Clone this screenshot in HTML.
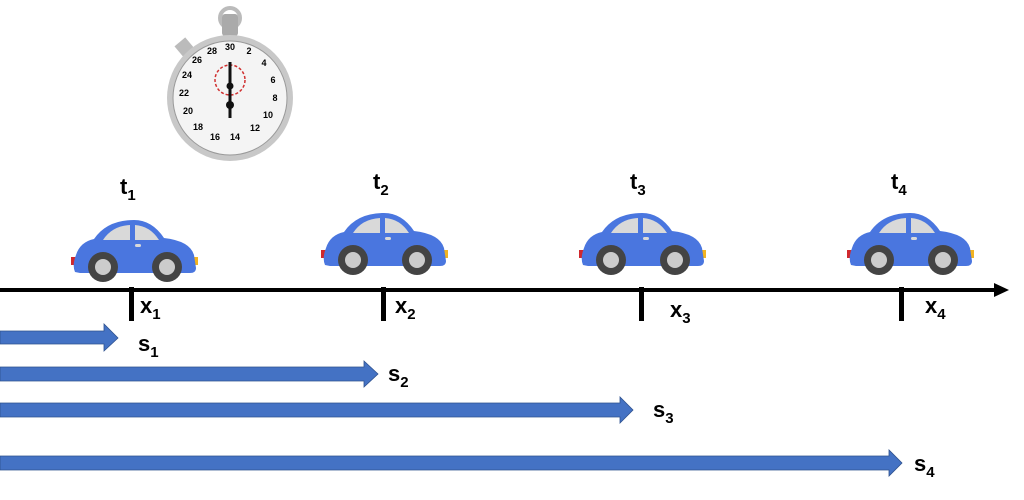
<!DOCTYPE html>
<html><head><style>
html,body{margin:0;padding:0;background:#fff;}
svg{display:block}
text{font-family:"Liberation Sans",sans-serif;font-weight:bold;fill:#000}
</style></head><body>
<svg width="1024" height="500" viewBox="0 0 1024 500">
<defs>
<g id="car">
  <rect x="-1" y="37" width="6" height="8" fill="#d0282d"/>
  <rect x="120" y="37" width="6" height="8" fill="#f2b320"/>
  <path d="M3,52 Q0,45 4,35 Q8,22 22,19 Q35,0 62,0 Q80,0 92,18 Q118,21 122,35 L124,48 Q124,53 118,53 L8,53 Z" fill="#4a76df"/>
  <path d="M31,20 Q40,6 58,5 L58,20 Z" fill="#d9d9d9"/>
  <path d="M63,5 Q78,6 87,20 L63,20 Z" fill="#d9d9d9"/>
  <rect x="63" y="24" width="6" height="3" rx="1.5" fill="#d9d9d9"/>
  <circle cx="31" cy="47" r="15" fill="#444"/><circle cx="31" cy="47" r="8" fill="#ccc"/>
  <circle cx="95" cy="47" r="15" fill="#444"/><circle cx="95" cy="47" r="8" fill="#ccc"/>
</g>
</defs>
<!-- stopwatch -->
<g>
  <circle cx="230" cy="18" r="10" fill="none" stroke="#bbb" stroke-width="4"/>
  <rect x="222" y="14" width="16" height="22" fill="#aaa" rx="3"/>
  <rect x="178" y="40" width="14" height="16" fill="#bbb" transform="rotate(-40 185 48)"/>
  <circle cx="230" cy="98" r="63" fill="#c8c8c8"/>
  <circle cx="230" cy="98" r="57" fill="#f4f4f4" stroke="#999" stroke-width="1"/>
  <circle cx="230" cy="80" r="15" fill="none" stroke="#d03030" stroke-width="1.5" stroke-dasharray="3 2"/>
  <line x1="230" y1="62" x2="230" y2="118" stroke="#111" stroke-width="3"/>
  <circle cx="230" cy="86" r="3.5" fill="#111"/><circle cx="230" cy="105" r="4" fill="#111"/>
  <g font-size="9" text-anchor="middle" style="font-weight:normal">
    <text x="230" y="50">30</text><text x="212" y="54">28</text><text x="197" y="63">26</text><text x="187" y="78">24</text><text x="184" y="96">22</text><text x="188" y="114">20</text><text x="198" y="130">18</text><text x="215" y="140">16</text><text x="235" y="140">14</text><text x="255" y="131">12</text><text x="268" y="118">10</text><text x="275" y="101">8</text><text x="273" y="83">6</text><text x="264" y="66">4</text><text x="249" y="54">2</text>
  </g>
</g>
<!-- labels t -->
<text x="120" y="194" font-size="22">t<tspan font-size="15" dy="6">1</tspan></text>
<text x="373" y="189" font-size="22">t<tspan font-size="15" dy="6">2</tspan></text>
<text x="630" y="189" font-size="22">t<tspan font-size="15" dy="6">3</tspan></text>
<text x="891" y="189" font-size="22">t<tspan font-size="15" dy="6">4</tspan></text>
<!-- cars -->
<use href="#car" x="72" y="220"/>
<use href="#car" x="322" y="213"/>
<use href="#car" x="580" y="213"/>
<use href="#car" x="848" y="213"/>
<!-- axis -->
<line x1="0" y1="290" x2="998" y2="290" stroke="#000" stroke-width="4"/>
<polygon points="994,283 1009,290 994,297" fill="#000"/>
<g fill="#000">
<rect x="129" y="287" width="5" height="34"/><rect x="381" y="287" width="5" height="34"/>
<rect x="639" y="287" width="5" height="34"/><rect x="899" y="287" width="5" height="34"/>
</g>
<text x="140" y="313" font-size="22">x<tspan font-size="15" dy="6">1</tspan></text>
<text x="395" y="313" font-size="22">x<tspan font-size="15" dy="6">2</tspan></text>
<text x="670" y="317" font-size="22">x<tspan font-size="15" dy="6">3</tspan></text>
<text x="925" y="313" font-size="22">x<tspan font-size="15" dy="6">4</tspan></text>
<!-- s arrows -->
<g fill="#4472c4" stroke="#2f528f" stroke-width="0.8">
<polygon points="0,331 104,331 104,324 118,338 104,351 104,344 0,344"/>
<polygon points="0,367 364,367 364,361 378,374 364,387 364,381 0,381"/>
<polygon points="0,403 620,403 620,397 633,410 620,423 620,417 0,417"/>
<polygon points="0,456 889,456 889,450 902,463 889,476 889,470 0,470"/>
</g>
<text x="138" y="351" font-size="22">s<tspan font-size="15" dy="6">1</tspan></text>
<text x="388" y="381" font-size="22">s<tspan font-size="15" dy="6">2</tspan></text>
<text x="653" y="417" font-size="22">s<tspan font-size="15" dy="6">3</tspan></text>
<text x="914" y="471" font-size="22">s<tspan font-size="15" dy="6">4</tspan></text>
</svg>
</body></html>
